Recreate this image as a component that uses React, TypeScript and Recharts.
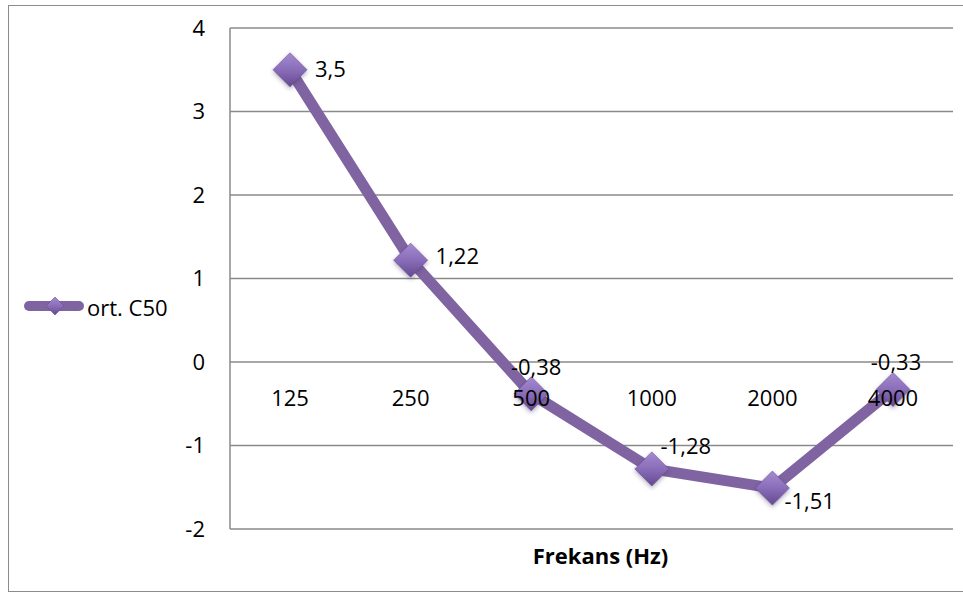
import React from "react";
import {
  LineChart,
  Line,
  XAxis,
  YAxis,
  CartesianGrid,
  Legend,
  LabelList,
} from "recharts";

// frequency bands and measured C50 averages
const frequencies = ["125", "250", "500", "1000", "2000", "4000"];
const c50Values = [3.5, 1.22, -0.38, -1.28, -1.51, -0.33];
const yTicks = [-2, -1, 0, 1, 2, 3, 4];
const seriesName = "ort. C50";

const data = frequencies.map((freq, i) => ({
  freq,
  c50: c50Values[i],
  axisZero: 0,
}));

// where each value label sits relative to its marker
const labelOffsets = [
  { dx: 25, dy: -2, anchor: "start" },
  { dx: 25, dy: -5, anchor: "start" },
  { dx: 5, dy: -28, anchor: "middle" },
  { dx: 34, dy: -24, anchor: "middle" },
  { dx: 12, dy: 12, anchor: "start" },
  { dx: 3, dy: -29, anchor: "middle" },
];

const FONT = '"Open Sans", sans-serif';
const PURPLE = "#8064a2";
const GRID = "#8a8a8a";

const formatValue = (v: number) => String(v).replace(".", ",");

function DiamondDot(props: any) {
  const { cx, cy } = props;
  if (cx == null || cy == null) return null;
  const s = 17;
  return (
    <polygon
      points={`${cx},${cy - s} ${cx + s},${cy} ${cx},${cy + s} ${cx - s},${cy}`}
      fill="url(#diamondFill)"
      stroke="#6a4e93"
      strokeWidth={0.6}
      filter="url(#markerShadow)"
    />
  );
}

function ValueLabel(props: any) {
  const { x, y, value, index } = props;
  const o = labelOffsets[index] ?? { dx: 20, dy: 0, anchor: "start" };
  return (
    <text
      x={x + o.dx}
      y={y + o.dy}
      textAnchor={o.anchor}
      dominantBaseline="central"
      fontSize={22}
      fontFamily={FONT}
      fill="#000"
    >
      {formatValue(value)}
    </text>
  );
}

function CategoryLabel(props: any) {
  const { x, y, value } = props;
  return (
    <text
      x={x}
      y={y + 35}
      textAnchor="middle"
      dominantBaseline="central"
      fontSize={22}
      fontFamily={FONT}
      fill="#000"
    >
      {value}
    </text>
  );
}

function LegendContent() {
  return (
    <svg width={180} height={30} style={{ display: "block" }}>
      <line
        x1={20}
        y1={15}
        x2={70}
        y2={15}
        stroke={PURPLE}
        strokeWidth={10}
        strokeLinecap="round"
      />
      <polygon points="46,6 55,15 46,24 37,15" fill="url(#diamondFill)" stroke="#6a4e93" strokeWidth={0.6} />
      <text x={78} y={16} dominantBaseline="central" fontSize={22} fontFamily={FONT} fill="#000">
        {seriesName}
      </text>
    </svg>
  );
}

export default function App() {
  return (
    <div
      style={{
        position: "absolute",
        left: 8,
        top: 5,
        width: 954,
        height: 585,
        borderTop: "1px solid #8c8c8c",
        borderLeft: "1px solid #8c8c8c",
        borderBottom: "1px solid #8c8c8c",
        background: "#fff",
        fontFamily: FONT,
      }}
    >
      <LineChart
        width={954}
        height={585}
        data={data}
        margin={{ top: 22, right: 10, left: 161, bottom: 0 }}
      >
        <defs>
          <linearGradient id="diamondFill" x1="0" y1="0" x2="0" y2="1">
            <stop offset="0%" stopColor="#a48bd0" />
            <stop offset="50%" stopColor="#8a6db9" />
            <stop offset="100%" stopColor="#64498f" />
          </linearGradient>
          <filter id="markerShadow" x="-50%" y="-50%" width="200%" height="200%">
            <feDropShadow dx="0" dy="2" stdDeviation="2.2" floodColor="#3a2f5c" floodOpacity="0.4" />
          </filter>
        </defs>
        <CartesianGrid vertical={false} stroke={GRID} strokeWidth={1.3} />
        <XAxis
          dataKey="freq"
          tick={false}
          axisLine={false}
          tickLine={false}
          height={62}
          padding={{ left: 60, right: 60 }}
          label={{
            value: "Frekans (Hz)",
            position: "insideBottom",
            offset: 27,
            dx: 9,
            fontSize: 22,
            fontWeight: 700,
            fontFamily: FONT,
            fill: "#000",
          }}
        />
        <YAxis
          width={60}
          domain={[-2, 4]}
          ticks={yTicks}
          interval={0}
          tickLine={false}
          tickSize={0}
          tickMargin={25}
          axisLine={{ stroke: GRID, strokeWidth: 1.5 }}
          tick={{ fill: "#000", fontSize: 22, fontFamily: FONT }}
        />
        <Legend
          layout="horizontal"
          verticalAlign="middle"
          align="center"
          content={<LegendContent />}
          wrapperStyle={{ left: 0, top: 285, width: 180, height: 30 }}
        />
        <Line
          type="linear"
          dataKey="c50"
          name={seriesName}
          stroke={PURPLE}
          strokeWidth={11}
          strokeLinejoin="round"
          dot={<DiamondDot />}
          activeDot={false}
          isAnimationActive={false}
        >
          <LabelList dataKey="c50" content={<ValueLabel />} />
        </Line>
        <Line
          type="linear"
          dataKey="axisZero"
          stroke="none"
          dot={false}
          activeDot={false}
          legendType="none"
          isAnimationActive={false}
        >
          <LabelList dataKey="freq" content={<CategoryLabel />} />
        </Line>
      </LineChart>
    </div>
  );
}
